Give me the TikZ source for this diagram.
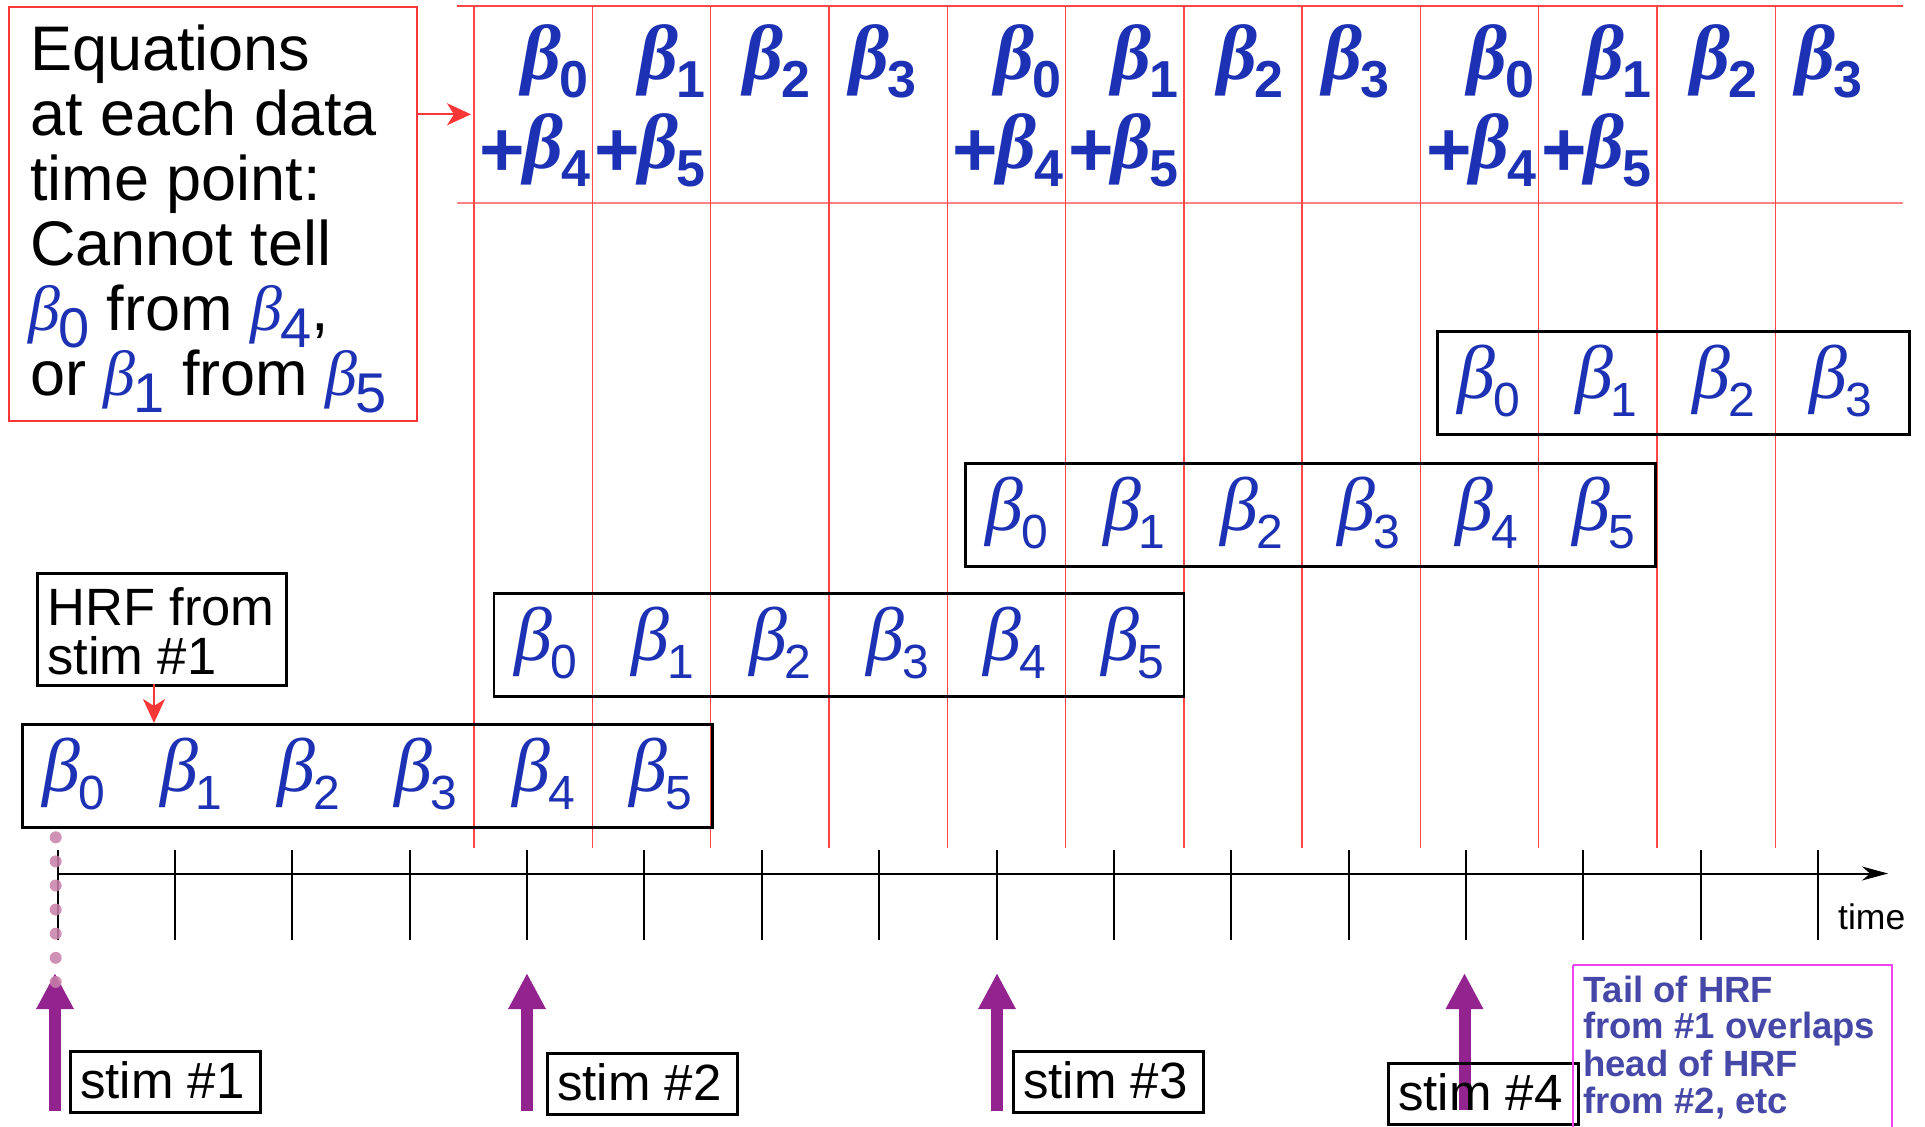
\documentclass[tikz,border=0pt]{standalone}
\usepackage{fontspec}
\setmainfont{Liberation Sans}
\newfontfamily\betaf{Liberation Serif}
\usetikzlibrary{arrows.meta}
\definecolor{bblue}{RGB}{28,49,179}
\definecolor{tailblue}{RGB}{70,72,168}
\definecolor{magbox}{RGB}{240,70,240}
\definecolor{stimpurple}{RGB}{146,35,143}
\definecolor{dotpink}{RGB}{200,128,168}
\definecolor{gridred}{RGB}{255,70,70}
\definecolor{lightred}{RGB}{255,130,130}
\definecolor{boxred}{RGB}{250,55,55}
% beta with subscript, HRF boxes
\newcommand\hb[1]{{\fontsize{76}{76}\betaf\itshape β}\kern-2pt\raisebox{-18pt}[0pt][0pt]{\fontsize{48}{48}\selectfont #1}}
% bold header beta
\newcommand\hdb[1]{{\fontsize{78}{78}\betaf\bfseries\itshape β}\kern-2pt\raisebox{-18pt}[0pt][0pt]{\fontsize{52}{52}\selectfont\bfseries #1}}
\newcommand\hplus{\raisebox{-8pt}[0pt][0pt]{\fontsize{78}{78}\selectfont\bfseries +}\kern-2pt}
% beta inside the equations text
\newcommand\eb[1]{\textcolor{bblue}{\smash{{\fontsize{64}{64}\betaf\itshape β}}\kern-2pt\raisebox{-17pt}[0pt][0pt]{\fontsize{56}{56}\selectfont #1}}}
\begin{document}
\begin{tikzpicture}[x=1pt,y=-1pt,
  redline/.style={draw=gridred, line width=1.4pt},
  boxframe/.style={draw=black, line width=2.5pt, rectangle, inner sep=0pt, anchor=north west},
  stimbox/.style={boxframe, minimum width=190pt, minimum height=61pt},
  bt/.style={inner sep=0pt, anchor=base, text=bblue},
  hd/.style={inner sep=0pt, text=bblue},
  txt/.style={inner sep=0pt, anchor=base west},
  eqtxt/.style={txt, font=\fontsize{63}{63}\selectfont},
  stimtxt/.style={txt, font=\fontsize{51}{51}\selectfont},
  tailtxt/.style={txt, text=tailblue, font=\fontsize{36.5}{36.5}\selectfont\bfseries},
  stimarrow/.style={draw=stimpurple, line width=12pt, -{Triangle[length=36pt,width=35pt]}},
  redarrow/.style={draw=boxred, line width=2pt, -{Stealth[length=24pt,width=22pt,inset=7pt]}},
  tickline/.style={draw=black, line width=2pt},
]
\useasboundingbox (0,0) rectangle (1925,1127);
\fill[white] (0,0) rectangle (1925,1127);

% header grid
\draw[redline] (457,6) -- (1903,6);
\draw[draw=lightred, line width=2.2pt] (457,203) -- (1903,203);
\foreach \i in {0,...,11}
  \draw[redline] ({474+118.3*\i},6) -- ({474+118.3*\i},848);

% header equations
\foreach \g in {0,1,2} {
  \node[hd, anchor=base east] (h\g a) at ({474+118.3*(4*\g+1)-4},79) {\hdb{0}};
  \node[hd, anchor=base east] (h\g b) at ({474+118.3*(4*\g+1)-2},168) {\hplus\hdb{4}};
  \node[hd, anchor=base east] (h\g c) at ({474+118.3*(4*\g+2)-5},79) {\hdb{1}};
  \node[hd, anchor=base east] (h\g d) at ({474+118.3*(4*\g+2)-5},168) {\hplus\hdb{5}};
  \node[hd, anchor=base west] (h\g e) at ({474+118.3*(4*\g+2)+33},79) {\hdb{2}};
  \node[hd, anchor=base west] (h\g f) at ({474+118.3*(4*\g+3)+20},79) {\hdb{3}};
}

% equations box
\node[boxframe, draw=boxred, minimum width=408pt, minimum height=414pt] (eqbox) at (7.5,5.5) {};
\node[eqtxt] (eq1) at (30,70.7) {Equations};
\node[eqtxt] (eq2) at (30,135.6) {at each data};
\node[eqtxt] (eq3) at (30,200.5) {time point:};
\node[eqtxt] (eq4) at (30,265.4) {Cannot tell};
\node[eqtxt] (eq5) at (28,330.3) {\eb{0} from \eb{4},};
\node[eqtxt] (eq6) at (30,395.2) {or \eb{1} from \eb{5}};
\coordinate (eqout) at (415.5,114.3);
\coordinate (eqin) at (471,114.3);
\draw[redarrow] (eqout) -- (eqin);

% HRF boxes
\node[boxframe, minimum width=690pt, minimum height=103pt] (boxA) at (21,723) {};
\node[boxframe, minimum width=690pt, minimum height=103pt] (boxB) at (492.6,592) {};
\node[boxframe, minimum width=690pt, minimum height=103pt] (boxC) at (964,462) {};
\node[boxframe, minimum width=472pt, minimum height=103pt] (boxD) at (1436,330) {};
\foreach \k in {0,...,5} {
  \node[bt] (a\k) at ({74+117.4*\k},791) {\hb{\k}};
  \node[bt] (b\k) at ({545.6+117.4*\k},660) {\hb{\k}};
  \node[bt] (c\k) at ({1017+117.4*\k},530) {\hb{\k}};
}
\foreach \k in {0,...,3}
  \node[bt] (d\k) at ({1489+117.4*\k},398) {\hb{\k}};

% HRF from stim #1 label
\node[boxframe, minimum width=249pt, minimum height=112pt] (hrf) at (36,572) {};
\node[txt, font=\fontsize{52.5}{52.5}\selectfont] (hrf1) at (47,625) {HRF from};
\node[txt, font=\fontsize{52.5}{52.5}\selectfont] (hrf2) at (47,674) {stim \#1};
\coordinate (hrfout) at (154,684);
\coordinate (boxAin) at (154,723);
\draw[redarrow] (hrfout) -- (boxAin);

% time axis
\coordinate (axs) at (57.7,873.5);
\coordinate (axe) at (1888,873.5);
\draw[line width=2pt, -{Stealth[length=26pt,width=14pt,inset=8pt]}] (axs) -- (axe);
\foreach \k in {0,...,15}
  \draw[tickline] ({57.7+117.35*\k},850) -- ({57.7+117.35*\k},940);
\node[txt, font=\fontsize{35.5}{35.5}\selectfont] (time) at (1838,929) {time};

% stimulus arrows
\coordinate (s1b) at (55,1111);   \coordinate (s1t) at (55,973);
\coordinate (s2b) at (527,1111);  \coordinate (s2t) at (527,973);
\coordinate (s3b) at (997,1111);  \coordinate (s3t) at (997,973);
\coordinate (s4b) at (1464.5,1110); \coordinate (s4t) at (1464.5,973);
\draw[stimarrow] (s1b) -- (s1t);
\draw[stimarrow] (s2b) -- (s2t);
\draw[stimarrow] (s3b) -- (s3t);
\draw[stimarrow] (s4b) -- (s4t);

% dotted line from stim #1 up to HRF
\coordinate (dtop) at (55.7,837.3);
\coordinate (dbot) at (55.7,982);
\draw[dotpink, opacity=0.85, line width=12pt, line cap=round, dash pattern=on 0pt off 24.1pt] (dtop) -- (dbot);

% stim boxes
\node[stimbox] (st1) at (69,1050) {};
\node[stimtxt] (st1t) at (80,1098) {stim \#1};
\node[stimbox] (st2) at (546,1052) {};
\node[stimtxt] (st2t) at (557,1100) {stim \#2};
\node[stimbox] (st3) at (1012,1050) {};
\node[stimtxt] (st3t) at (1023,1098) {stim \#3};
\node[stimbox] (st4) at (1387,1062) {};
\node[stimtxt] (st4t) at (1398,1110) {stim \#4};

% tail note
\draw[draw=magbox, line width=2.5pt] (1573,965) -- (1892,965) -- (1892,1140) (1573,965) -- (1573,1140);
\node[tailtxt] (tl1) at (1583,1002) {Tail of HRF};
\node[tailtxt] (tl2) at (1583,1038) {from \#1 overlaps};
\node[tailtxt] (tl3) at (1583,1076) {head of HRF};
\node[tailtxt] (tl4) at (1583,1113) {from \#2, etc};
\end{tikzpicture}
\end{document}
